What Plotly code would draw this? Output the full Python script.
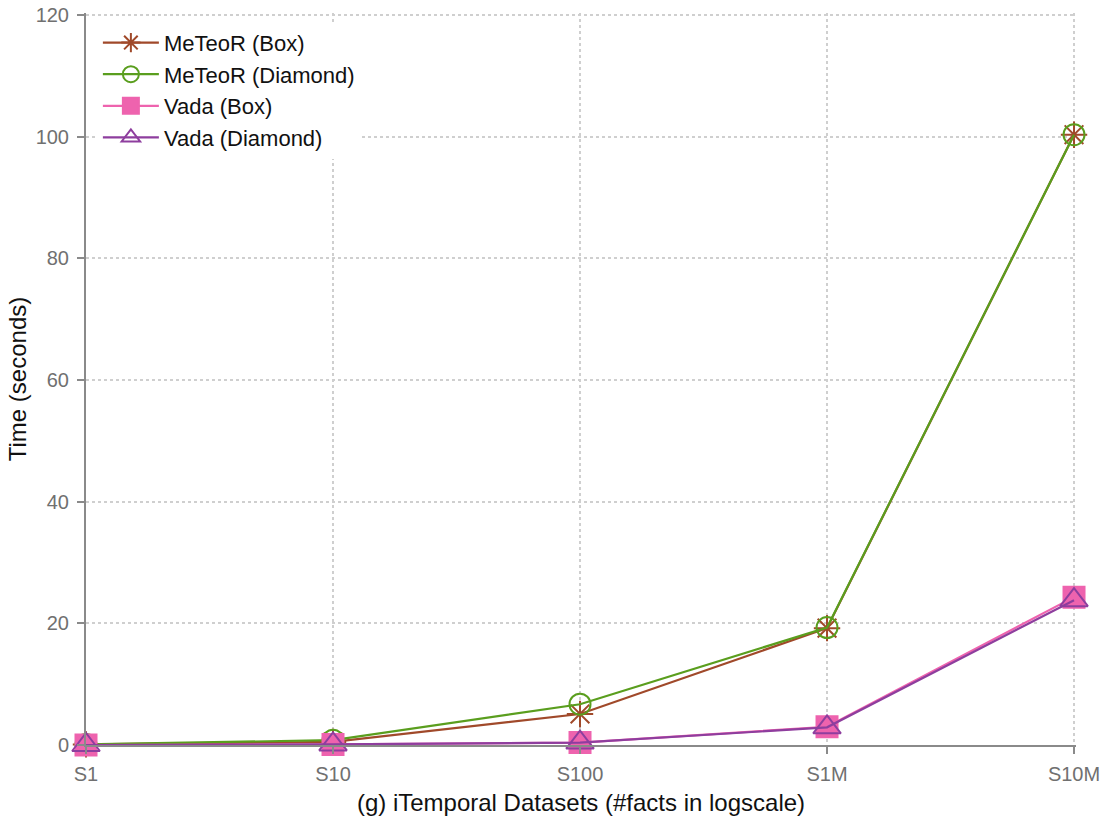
import plotly.graph_objects as go

categories = ["S1", "S10", "S100", "S1M", "S10M"]
meteor_box = [0.1, 0.5, 5.1, 19.2, 100.3]
meteor_diamond = [0.1, 0.8, 6.7, 19.3, 100.3]
vada_box = [0.0, 0.1, 0.4, 3.0, 24.3]
vada_diamond = [0.0, 0.1, 0.4, 2.9, 23.8]
y_ticks = [0, 20, 40, 60, 80, 100, 120]

series = [
    ("MeTeoR (Box)", meteor_box, "#a0492a", "asterisk-open", 22),
    ("MeTeoR (Diamond)", meteor_diamond, "#5a9e1e", "circle-open", 21),
    ("Vada (Box)", vada_box, "#ee63ae", "square", 21),
    ("Vada (Diamond)", vada_diamond, "#8e3e9e", "triangle-up-open", 24),
]

fig = go.Figure()
for name, vals, color, sym, size in series:
    fig.add_trace(go.Scatter(
        x=list(range(len(categories))), y=vals, name=name, mode="lines+markers",
        line=dict(color=color, width=2.2),
        marker=dict(symbol=sym, size=size, color=color,
                    line=dict(color=color, width=2)),
        cliponaxis=False,
    ))

fig.update_layout(
    width=1107, height=823,
    margin=dict(l=86, r=31, t=13, b=78, autoexpand=False),
    plot_bgcolor="white", paper_bgcolor="white",
    font=dict(family="Liberation Sans, Arial, sans-serif", size=20, color="#222"),
    legend=dict(x=0.012, y=0.988, xanchor="left", yanchor="top",
                bgcolor="white", font=dict(size=22, color="#111"),
                tracegroupgap=0, itemwidth=56),
    showlegend=True,
)
fig.update_xaxes(
    tickmode="array", tickvals=list(range(len(categories))), ticktext=categories,
    range=[0, 4.008], showline=True, linecolor="#8a8a8a", linewidth=2,
    ticks="outside", ticklen=7, tickcolor="#8a8a8a", tickwidth=1.5,
    ticklabelstandoff=3, ticklabeloverflow="allow",
    showgrid=True, gridcolor="#cfcfcf", griddash="dot", gridwidth=1.5,
    tickfont=dict(size=20, color="#707070"), zeroline=False, automargin=False,
    title=dict(text="(g) iTemporal Datasets (#facts in logscale)",
               font=dict(size=24, color="#111"), standoff=10),
)
fig.update_yaxes(
    range=[0, 120.3], tickmode="array", tickvals=y_ticks,
    ticktext=[str(v) for v in y_ticks],
    showline=True, linecolor="#8a8a8a", linewidth=2,
    ticks="outside", ticklen=7, tickcolor="#8a8a8a", tickwidth=1.5,
    ticklabelstandoff=4, ticklabeloverflow="allow",
    showgrid=True, gridcolor="#cfcfcf", griddash="dot", gridwidth=1.5,
    tickfont=dict(size=20, color="#707070"), zeroline=False, automargin=False,
    title=dict(text="Time (seconds)", font=dict(size=24, color="#111"), standoff=2),
)

fig.write_html("out.html", config={"displayModeBar": False},
               post_script="document.body.style.margin='0px';")
